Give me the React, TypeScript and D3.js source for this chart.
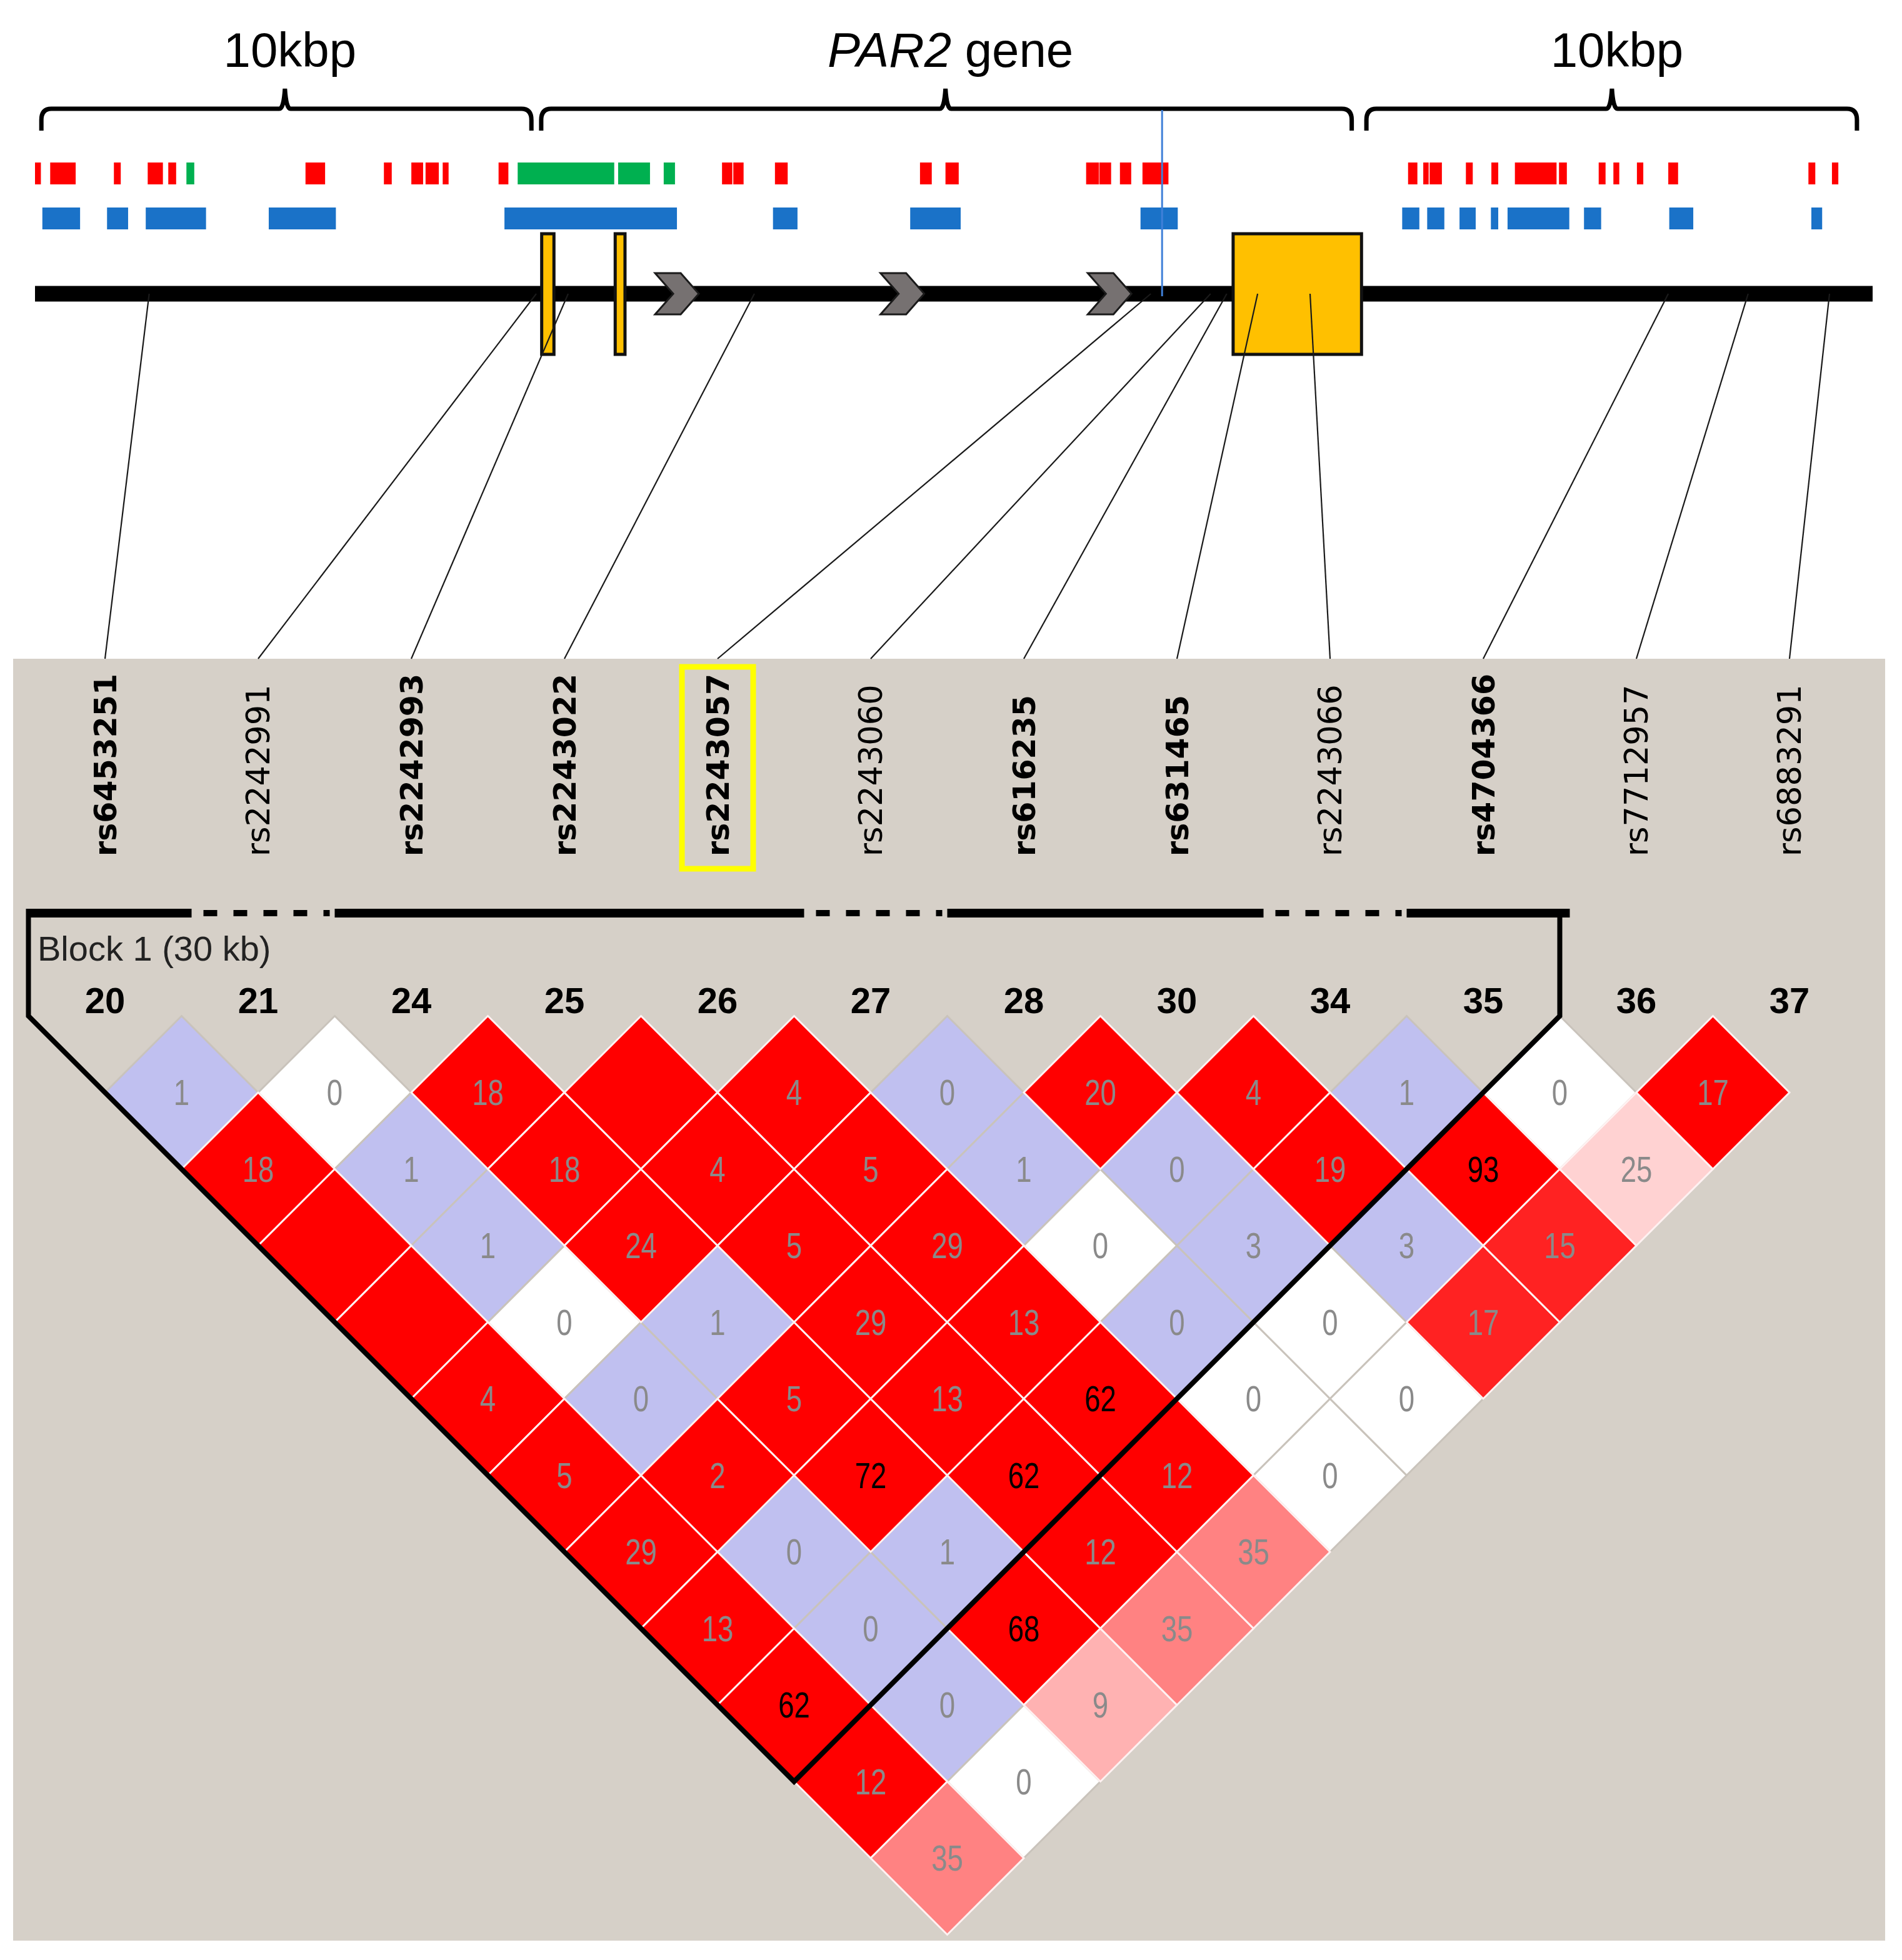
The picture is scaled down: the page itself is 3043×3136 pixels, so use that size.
import * as d3 from "d3";

const W = 3043;
const H = 3136;

// SNPs, left to right
const snpNames = [
  "rs6453251", "rs2242991", "rs2242993", "rs2243022", "rs2243057", "rs2243060",
  "rs616235", "rs631465", "rs2243066", "rs4704366", "rs7712957", "rs6883291",
];
const snpIds = ["20", "21", "24", "25", "26", "27", "28", "30", "34", "35", "36", "37"];
const snpTagged = [true, false, true, true, true, false, true, true, false, true, false, false];
// position on the gene track, kb from the left end
const snpKb = [2.33, 10.23, 10.88, 14.68, 22.77, 23.99, 24.32, 24.95, 26.02, 33.33, 34.96, 36.62];
const markedSnp = "rs2243057";
const blockSnps = snpNames.slice(0, 10);
const blockLabel = "Block 1 (30 kb)";

// pairwise LD, row i holds pairs (i, i+1 .. last); null = no number shown
const ldValue: (number | null)[][] = [
  [1, 18, null, null, 4, 5, 29, 13, 62, 12, 35],
  [0, 1, 1, 0, 0, 2, 0, 0, 0, 0],
  [18, 18, 24, 1, 5, 72, 1, 68, 9],
  [null, 4, 5, 29, 13, 62, 12, 35],
  [4, 5, 29, 13, 62, 12, 35],
  [0, 1, 0, 0, 0, 0],
  [20, 0, 3, 0, 0],
  [4, 19, 3, 17],
  [1, 93, 15],
  [0, 25],
  [17],
];
// colour class of each pair: w white, b blue, r red, l light red, s salmon, p pink, q pale pink
const ldClass: string[][] = [
  ["b", "r", "r", "r", "r", "r", "r", "r", "r", "r", "s"],
  ["w", "b", "b", "w", "b", "r", "b", "b", "b", "w"],
  ["r", "r", "r", "b", "r", "r", "b", "r", "p"],
  ["r", "r", "r", "r", "r", "r", "r", "s"],
  ["r", "r", "r", "r", "r", "r", "s"],
  ["b", "b", "w", "b", "w", "w"],
  ["r", "b", "b", "w", "w"],
  ["r", "r", "b", "l"],
  ["b", "r", "l"],
  ["w", "q"],
  ["r"],
];

// gene region (kb)
const trackLengthKb = 37.5;
const braces: [number, number, number][] = [
  [0.13, 5.1, 10.13],
  [10.33, 18.58, 26.87],
  [27.17, 32.18, 37.18],
];
const redMarks = [
  [0, 0.12], [0.31, 0.83], [1.61, 1.75], [2.3, 2.61], [2.72, 2.88], [5.52, 5.92],
  [7.12, 7.28], [7.68, 7.92], [7.97, 8.24], [8.32, 8.44], [9.46, 9.66],
  [14.02, 14.23], [14.25, 14.46], [15.1, 15.36], [18.06, 18.3], [18.58, 18.85],
  [21.45, 21.71], [21.72, 21.96], [22.14, 22.37], [22.6, 23.13],
  [28.02, 28.21], [28.33, 28.44], [28.46, 28.71], [29.2, 29.34], [29.72, 29.86],
  [30.2, 31.05], [31.1, 31.26], [31.91, 32.05], [32.21, 32.33], [32.69, 32.82],
  [33.33, 33.53], [36.19, 36.33], [36.67, 36.8],
];
const greenMarks = [[3.09, 3.25], [9.85, 11.82], [11.9, 12.55], [12.83, 13.06]];
const blueMarks = [
  [0.15, 0.92], [1.47, 1.9], [2.26, 3.49], [4.77, 6.14], [9.58, 13.1], [15.06, 15.56],
  [17.86, 18.89], [22.56, 23.32], [27.9, 28.25], [28.41, 28.76], [29.07, 29.4],
  [29.71, 29.86], [30.05, 31.31], [31.61, 31.96], [33.35, 33.84], [36.25, 36.47],
];
const exons = [[10.34, 10.59], [11.84, 12.04], [24.45, 27.07]];
const strandArrows = [13.1, 17.7, 21.93];
const cursorKb = 23.0;

const classColor = d3
  .scaleOrdinal<string, string>()
  .domain(["w", "b", "r", "l", "s", "p", "q"])
  .range(["#ffffff", "#c0c0f0", "#ff0000", "#ff2222", "#ff8282", "#ffb2b2", "#ffd2d2"]);

export default function App() {
  // gene track
  const xg = d3.scaleLinear().domain([0, trackLengthKb]).range([56, 2996]);
  const lineY = 470;

  // LD plot
  const x = d3.scaleBand<string>().domain(snpNames).range([45.5, 2985.5]);
  const h = x.bandwidth() / 2;
  const xc = (name: string) => (x(name) as number) + h;
  const yRow = d3.scaleLinear().domain([0, 1]).range([1625.5, 1625.5 + h]);

  const cells = ldValue.flatMap((row, i) =>
    row.map((v, k) => ({ i, j: i + k + 1, v, c: ldClass[i][k] }))
  );
  const isRed = (c: string) => c !== "w" && c !== "b";
  const ordered = [...cells.filter((c) => !isRed(c.c)), ...cells.filter((c) => isRed(c.c))];

  const bracePath = ([a, m, b]: [number, number, number]) => {
    const x1 = xg(a), xm = xg(m), x2 = xg(b);
    return `M${x1},209 L${x1},192 Q${x1},174 ${x1 + 16},174 L${xm - 9},174 Q${xm - 2},174 ${xm},142 Q${xm + 2},174 ${xm + 9},174 L${x2 - 16},174 Q${x2},174 ${x2},192 L${x2},209`;
  };

  const chevron = (cx: number) =>
    `M${cx - 35},${lineY - 33} L${cx + 6},${lineY - 33} L${cx + 35},${lineY} L${cx + 6},${lineY + 33} L${cx - 35},${lineY + 33} L${cx - 6},${lineY} Z`;

  const blockLeft = xc(blockSnps[0]) - h;
  const blockRight = xc(blockSnps[blockSnps.length - 1]) + h;
  const apexX = (xc(blockSnps[0]) + xc(blockSnps[blockSnps.length - 1])) / 2;
  const apexY = yRow(blockSnps.length - 1) + h;
  const barY = 1461;

  return (
    <svg
      width={W}
      height={H}
      viewBox={`0 0 ${W} ${H}`}
      style={{ position: "absolute", left: 0, top: 0, background: "#ffffff" }}
      fontFamily="Liberation Sans, Arial, sans-serif"
    >
      <rect width={W} height={H} fill="#ffffff" />

      {/* region titles and braces */}
      {braces.map((b, k) => (
        <g key={k}>
          <path d={bracePath(b)} fill="none" stroke="#000" strokeWidth={7} />
          <text x={xg(b[1]) + 8} y={107} fontSize={78} textAnchor="middle" fill="#000">
            {k === 1 ? (
              <>
                <tspan fontStyle="italic">PAR2</tspan> gene
              </>
            ) : (
              "10kbp"
            )}
          </text>
        </g>
      ))}

      {/* annotation tracks */}
      {redMarks.map(([a, b], k) => (
        <rect key={"r" + k} x={xg(a)} y={260} width={xg(b) - xg(a)} height={35} fill="#ff0000" />
      ))}
      {greenMarks.map(([a, b], k) => (
        <rect key={"g" + k} x={xg(a)} y={260} width={xg(b) - xg(a)} height={35} fill="#00b050" />
      ))}
      {blueMarks.map(([a, b], k) => (
        <rect key={"b" + k} x={xg(a)} y={332} width={xg(b) - xg(a)} height={35} fill="#1a72c8" />
      ))}

      {/* gene line */}
      <rect x={xg(0)} y={lineY - 12.5} width={xg(trackLengthKb) - xg(0)} height={25} fill="#000" />
      {strandArrows.map((a, k) => (
        <path key={k} d={chevron(xg(a))} fill="#767171" stroke="#1a1a1a" strokeWidth={3} />
      ))}
      {exons.map(([a, b], k) => (
        <rect
          key={k}
          x={xg(a)}
          y={374}
          width={xg(b) - xg(a)}
          height={193}
          fill="#ffc000"
          stroke="#111"
          strokeWidth={5}
        />
      ))}
      <line x1={xg(cursorKb)} x2={xg(cursorKb)} y1={176} y2={474} stroke="#3f80d8" strokeWidth={3} />

      {/* LD panel */}
      <rect x={21} y={1054} width={2995} height={2051} fill="#d6d0c8" />

      {/* SNP connectors */}
      {snpNames.map((s, i) => (
        <line key={s} x1={xg(snpKb[i])} y1={lineY} x2={xc(s)} y2={1054} stroke="#1a1a1a" strokeWidth={2.2} />
      ))}

      {/* SNP names */}
      {snpNames.map((s, i) => (
        <text
          key={s}
          transform={`translate(${xc(s) + 18},1370) rotate(-90)`}
          fontFamily="DejaVu Sans, Verdana, sans-serif"
          fontWeight={snpTagged[i] ? "bold" : "normal"}
          fontSize={snpTagged[i] ? 49 : 51}
          fill="#000"
        >
          {s}
        </text>
      ))}
      <rect
        x={xc(markedSnp) - 57}
        y={1067}
        width={114}
        height={323}
        fill="none"
        stroke="#ffff00"
        strokeWidth={9}
      />

      {/* block bar */}
      {blockSnps.map((s, k) => {
        const i = snpNames.indexOf(s);
        const x0 = xc(s) - h;
        const x1 = xc(s) + h;
        return snpTagged[i] ? (
          <rect key={s} x={x0} y={barY - 7} width={x1 - x0 + 16} height={14} fill="#000" />
        ) : (
          <line
            key={s}
            x1={x0 + 35}
            x2={x1 - 8}
            y1={barY}
            y2={barY}
            stroke="#000"
            strokeWidth={10}
            strokeDasharray="22 26"
          />
        );
      })}
      <text x={60} y={1537} fontSize={56} fill="#222">
        {blockLabel}
      </text>

      {/* SNP numbers */}
      {snpNames.map((s, i) => (
        <text key={s} x={xc(s)} y={1621} fontSize={58} fontWeight="bold" textAnchor="middle" fill="#000">
          {snpIds[i]}
        </text>
      ))}

      {/* LD diamonds */}
      {ordered.map((c) => {
        const cx = (xc(snpNames[c.i]) + xc(snpNames[c.j])) / 2;
        const cy = yRow(c.j - c.i);
        const red = isRed(c.c);
        return (
          <g key={c.i + "-" + c.j}>
            <path
              d={`M${cx},${cy - h} L${cx + h},${cy} L${cx},${cy + h} L${cx - h},${cy} Z`}
              fill={classColor(c.c)}
              stroke={red ? "#fff2f2" : "#c9c3bb"}
              strokeWidth={3}
            />
            {c.v !== null && (
              <text
                transform={`translate(${cx},${cy + 20}) scale(0.8,1)`}
                fontSize={57}
                textAnchor="middle"
                fill={c.v >= 60 ? "#000" : "#8a8a8a"}
              >
                {c.v}
              </text>
            )}
          </g>
        );
      })}

      {/* block outline */}
      <path
        d={`M${blockLeft},${barY - 7} V${yRow(0)} L${apexX},${apexY} L${blockRight},${yRow(0)} V${barY - 7}`}
        fill="none"
        stroke="#000"
        strokeWidth={8}
      />
    </svg>
  );
}
